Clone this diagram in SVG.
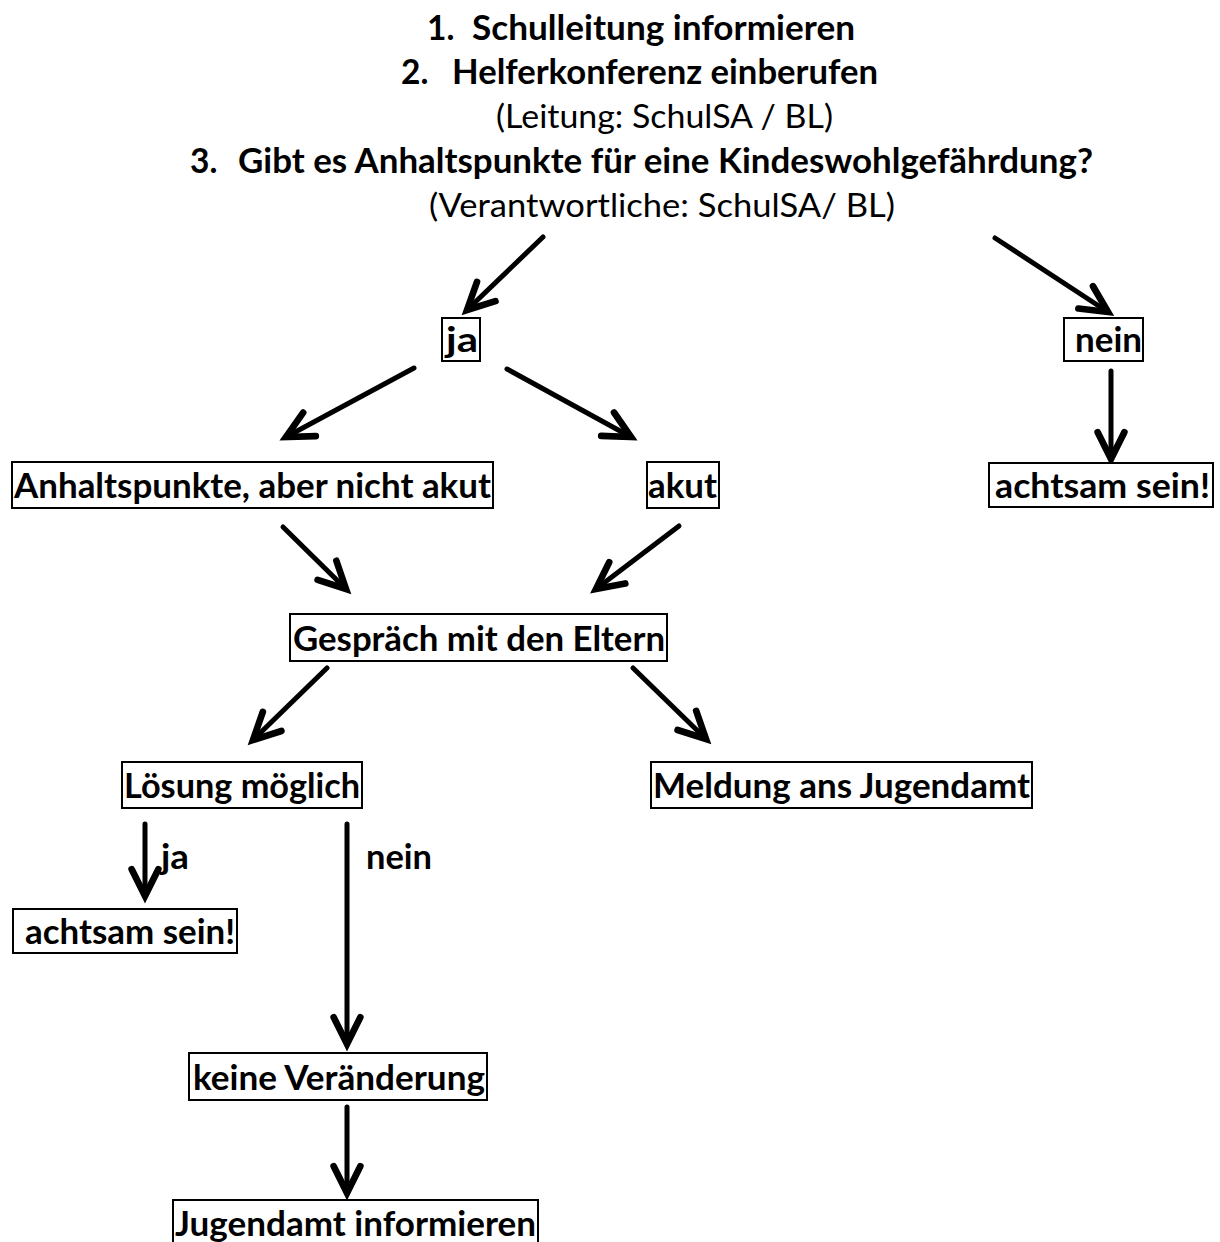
<svg xmlns="http://www.w3.org/2000/svg" width="1220" height="1242" viewBox="0 0 1220 1242">
<style>
  text { font-family: Lato, "Open Sans", "Liberation Sans", sans-serif; font-size: 33.5px; fill: #000; }
  .b { font-weight: 700; }
  .r { font-weight: 400; }
  .box { fill: #fff; stroke: #000; stroke-width: 2; }
  .arr { stroke: #000; stroke-width: 5; fill: none; stroke-linecap: round; marker-end: url(#head); }
</style>
<defs>
  <marker id="head" markerUnits="userSpaceOnUse" markerWidth="40" markerHeight="40" viewBox="-25 -15 30 30" refX="0" refY="0" orient="auto" overflow="visible">
    <path d="M-20,-10 L0,0 L-20,10" fill="none" stroke="#000" stroke-width="5" stroke-linecap="round" stroke-linejoin="miter"/>
  </marker>
</defs>
<rect width="1220" height="1242" fill="#fff"/>

<g id="header">
  <text class="b" x="427" y="40">1.</text>
  <text class="b" x="472" y="40" textLength="383" lengthAdjust="spacingAndGlyphs">Schulleitung informieren</text>
  <text class="b" x="401" y="84">2.</text>
  <text class="b" x="452" y="84" textLength="426" lengthAdjust="spacingAndGlyphs">Helferkonferenz einberufen</text>
  <text class="r" x="496" y="128" textLength="337" lengthAdjust="spacingAndGlyphs">(Leitung: SchulSA / BL)</text>
  <text class="b" x="190" y="173">3.</text>
  <text class="b" x="238" y="173" textLength="855" lengthAdjust="spacingAndGlyphs">Gibt es Anhaltspunkte für eine Kindeswohlgefährdung?</text>
  <text class="r" x="429" y="217" textLength="466" lengthAdjust="spacingAndGlyphs">(Verantwortliche: SchulSA/ BL)</text>
</g>

<g id="connectors">
  <line class="arr" x1="543" y1="237" x2="467" y2="310"/>
  <line class="arr" x1="995" y1="238" x2="1108" y2="312"/>
  <line class="arr" x1="414" y1="368" x2="286" y2="437"/>
  <line class="arr" x1="507" y1="369" x2="631" y2="437"/>
  <line class="arr" x1="1111" y1="371" x2="1111" y2="459"/>
  <line class="arr" x1="283" y1="527" x2="346" y2="589"/>
  <line class="arr" x1="679" y1="526" x2="596" y2="589"/>
  <line class="arr" x1="327" y1="668" x2="253" y2="740"/>
  <line class="arr" x1="633" y1="668" x2="706" y2="739"/>
  <line class="arr" x1="145" y1="824" x2="145" y2="896"/>
  <line class="arr" x1="347" y1="824" x2="347" y2="1044"/>
  <line class="arr" x1="347" y1="1107" x2="347" y2="1193"/>
  <text class="b" x="161" y="869" textLength="28" lengthAdjust="spacingAndGlyphs">ja</text>
  <text class="b" x="366" y="869" textLength="66" lengthAdjust="spacingAndGlyphs">nein</text>
</g>

<g id="n-ja">
  <rect class="box" x="442" y="318" width="38" height="43"/>
  <text class="b" x="446" y="352" textLength="32" lengthAdjust="spacingAndGlyphs">ja</text>
</g>
<g id="n-nein">
  <rect class="box" x="1064" y="318" width="79" height="43"/>
  <text class="b" x="1075" y="352" textLength="67" lengthAdjust="spacingAndGlyphs">nein</text>
</g>
<g id="n-achtsam-r">
  <rect class="box" x="989" y="463" width="224" height="44"/>
  <text class="b" x="995" y="498" textLength="215" lengthAdjust="spacingAndGlyphs">achtsam sein!</text>
</g>
<g id="n-anhalt">
  <rect class="box" x="12" y="462" width="481" height="46"/>
  <text class="b" x="14" y="498" textLength="477" lengthAdjust="spacingAndGlyphs">Anhaltspunkte, aber nicht akut</text>
</g>
<g id="n-akut">
  <rect class="box" x="647" y="462" width="72" height="46"/>
  <text class="b" x="648" y="498" textLength="69" lengthAdjust="spacingAndGlyphs">akut</text>
</g>
<g id="n-gespraech">
  <rect class="box" x="290" y="614" width="377" height="47"/>
  <text class="b" x="293" y="651" textLength="372" lengthAdjust="spacingAndGlyphs">Gespräch mit den Eltern</text>
</g>
<g id="n-loesung">
  <rect class="box" x="122" y="762" width="240" height="46"/>
  <text class="b" x="124" y="798" textLength="236" lengthAdjust="spacingAndGlyphs">Lösung möglich</text>
</g>
<g id="n-meldung">
  <rect class="box" x="651" y="762" width="381" height="46"/>
  <text class="b" x="653" y="798" textLength="377" lengthAdjust="spacingAndGlyphs">Meldung ans Jugendamt</text>
</g>
<g id="n-achtsam-l">
  <rect class="box" x="13" y="909" width="224" height="44"/>
  <text class="b" x="25" y="944" textLength="210" lengthAdjust="spacingAndGlyphs">achtsam sein!</text>
</g>
<g id="n-keine">
  <rect class="box" x="189" y="1053" width="298" height="47"/>
  <text class="b" x="193" y="1090" textLength="292" lengthAdjust="spacingAndGlyphs">keine Veränderung</text>
</g>
<g id="n-jugendamt">
  <rect class="box" x="173" y="1200" width="365" height="50"/>
  <text class="b" x="175" y="1236" textLength="361" lengthAdjust="spacingAndGlyphs">Jugendamt informieren</text>
</g>
</svg>
